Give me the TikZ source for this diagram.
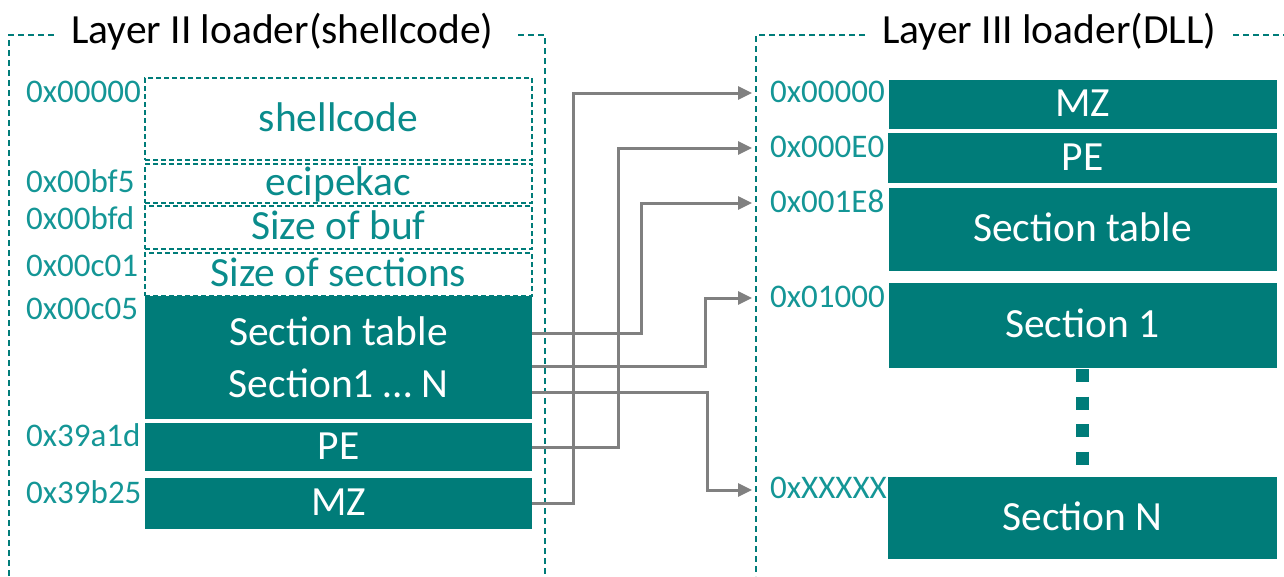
\documentclass[tikz,border=0pt]{standalone}
\usepackage{fontspec}
\setmainfont{Carlito}
\usetikzlibrary{arrows.meta}

\definecolor{tealfill}{RGB}{0,124,121}
\definecolor{tealtext}{RGB}{10,140,140}
\definecolor{addrcol}{RGB}{20,150,150}
\definecolor{arrgray}{RGB}{128,128,128}

\tikzset{
  container/.style={draw=tealfill, line width=1.3pt, dash pattern=on 6pt off 4pt},
  hollowbox/.style={draw=tealfill, line width=1.3pt, dash pattern=on 5pt off 3pt,
    inner sep=0pt, text=tealtext, font=\fontsize{41.5}{44}\selectfont,
    text height=31pt, text depth=7pt},
  solidbox/.style={fill=tealfill, draw=none, inner sep=0pt, text=white,
    font=\fontsize{41.5}{44}\selectfont, text height=31pt, text depth=7pt},
  addr/.style={anchor=base west, inner sep=0pt, text=addrcol,
    font=\fontsize{33}{35}\selectfont},
  heading/.style={anchor=base west, inner sep=0pt, text=black,
    font=\fontsize{41.5}{44}\selectfont},
  link/.style={draw=arrgray, line width=3pt, -{Triangle[length=14pt,width=13pt]}}
}

\begin{document}
\begin{tikzpicture}[x=1pt, y=-1pt]
\useasboundingbox (0,0) rectangle (1284,576);

% --- Layer II frame -------------------------------------------------
\node[heading] (titleL) at (71,43) {Layer II loader(shellcode)};
\draw[container] (54,35) -- (9,35) -- (9,576);
\draw[container] (518,35) -- (545,35) -- (545,576);

% --- Layer III frame ------------------------------------------------
\node[heading] (titleR) at (882,43) {Layer III loader(DLL)};
\draw[container] (865,35) -- (756,35) -- (756,576);
\draw[container] (1233,35) -- (1284,35);

% --- Layer II memory layout ----------------------------------------
\node[hollowbox, minimum width=387pt, minimum height=82pt] (shc) at (338.5,119) {shellcode};
\node[hollowbox, minimum width=387pt, minimum height=39pt] (eci) at (338.5,183.5) {ecipekac};
\node[hollowbox, minimum width=387pt, minimum height=43pt] (sob) at (338.5,227.5) {Size of buf};
\node[hollowbox, minimum width=387pt, minimum height=43pt] (sos) at (338.5,274.5) {Size of sections};
\node[solidbox, minimum width=387pt, minimum height=123pt, align=center,
      text height=, text depth=, font=\fontsize{41.5}{52}\selectfont] (secL) at (338.5,357.5)
      {Section table\\Section1 … N};
\node[solidbox, minimum width=387pt, minimum height=48pt] (peL) at (338.5,447) {PE};
\node[solidbox, minimum width=387pt, minimum height=51pt] (mzL) at (338.5,503.5) {MZ};

\node[addr] (aL1) at (26,102) {0x00000};
\node[addr] (aL2) at (26,192) {0x00bf5};
\node[addr] (aL3) at (26,229) {0x00bfd};
\node[addr] (aL4) at (26,276) {0x00c01};
\node[addr] (aL5) at (26,319) {0x00c05};
\node[addr] (aL6) at (26,446) {0x39a1d};
\node[addr] (aL7) at (26,503) {0x39b25};

% --- Layer III memory layout ---------------------------------------
\node[solidbox, minimum width=388pt, minimum height=49pt] (mzR) at (1082.5,104.5) {MZ};
\node[solidbox, minimum width=389pt, minimum height=50pt] (peR) at (1082.5,158) {PE};
\node[solidbox, minimum width=388pt, minimum height=83pt] (stR) at (1082.5,229.5) {Section table};
\node[solidbox, minimum width=388pt, minimum height=85pt] (s1R) at (1082.5,325.5) {Section 1};
\node[solidbox, minimum width=389pt, minimum height=82pt] (snR) at (1082.5,518) {Section N};
\draw[tealfill, line width=13pt, dash pattern=on 13pt off 14.5pt] (s1R.south) ++(0,1) -- ++(0,97);

\node[addr] (aR1) at (770,102) {0x00000};
\node[addr] (aR2) at (770,157) {0x000E0};
\node[addr] (aR3) at (770,212) {0x001E8};
\node[addr] (aR4) at (770,307) {0x01000};
\node[addr] (aR5) at (770,498) {0xXXXXX};

% --- arrow targets at the Layer III frame --------------------------
\coordinate (tMZ) at (752,93);
\coordinate (tPE) at (752,148);
\coordinate (tST) at (752,203);
\coordinate (tS1) at (752,298);
\coordinate (tSN) at (752,490);

% --- relocation links ----------------------------------------------
\draw[link] (mzL.east) -- ++(41,0) |- (tMZ);
\draw[link] (peL.east) -- ++(86,0) |- (tPE);
\draw[link] ([yshift=24.5pt]secL.east) -- ++(109,0) |- (tST);
\draw[link] ([yshift=-8.5pt]secL.east) -- ++(173,0) |- (tS1);
\draw[link] ([yshift=-34.5pt]secL.east) -- ++(175,0) |- (tSN);
\end{tikzpicture}
\end{document}
